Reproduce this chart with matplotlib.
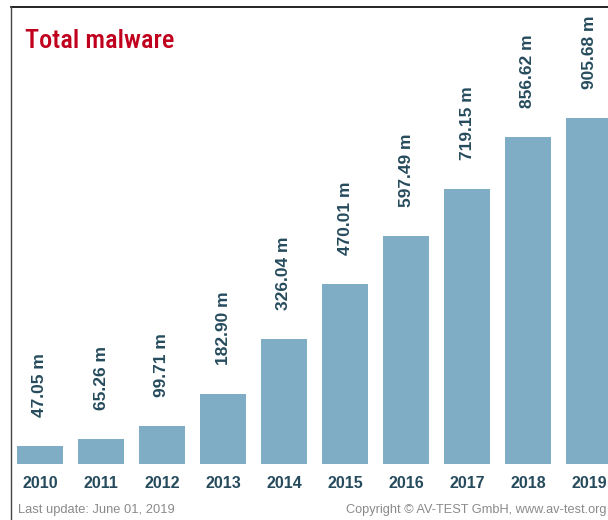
import matplotlib
matplotlib.use('Agg')
import matplotlib.pyplot as plt
from matplotlib.lines import Line2D
from matplotlib import font_manager

# Yearly totals (millions of samples)
years = ['2010', '2011', '2012', '2013', '2014', '2015', '2016', '2017', '2018', '2019']
totals = [47.05, 65.26, 99.71, 182.90, 326.04, 470.01, 597.49, 719.15, 856.62, 905.68]
value_labels = ['47.05 m', '65.26 m', '99.71 m', '182.90 m', '326.04 m',
                '470.01 m', '597.49 m', '719.15 m', '856.62 m', '905.68 m']

W, H = 608, 520
bar_color = '#7fadc6'
label_color = '#264b5d'

# pick a narrow face for the heading if one is installed
installed = {(f.name, f.stretch) for f in font_manager.fontManager.ttflist}
names = {n for n, _ in installed}
title_font = dict(family=['DejaVu Sans'], fontstretch='normal', fontsize=16)
for cand in ['Liberation Sans Narrow', 'Roboto Condensed', 'Open Sans Condensed',
             'DejaVu Sans Condensed']:
    if cand in names:
        title_font = dict(family=[cand, 'DejaVu Sans'], fontstretch='normal', fontsize=19)
        break
else:
    if any(n == 'DejaVu Sans' and s in ('condensed', 'semi-condensed')
           for n, s in installed):
        title_font = dict(family=['DejaVu Sans'], fontstretch='condensed', fontsize=17)

fig = plt.figure(figsize=(W / 100, H / 100), dpi=100, facecolor='white')

# axes spans from the left frame line to the right edge, top frame line to the bottom
left_px, top_px = 11, 7
ax = fig.add_axes([left_px / W, 0, 1 - left_px / W, 1 - top_px / H])
px_per_unit = 346 / 905.68
baseline_px = 464
ax.set_ylim(-(H - baseline_px) / px_per_unit, (baseline_px - top_px) / px_per_unit)
ax.set_xlim((left_px - 40) / 61, (W - 40) / 61)
ax.axis('off')

x = list(range(len(years)))
ax.bar(x, totals, width=46 / 61, color=bar_color, edgecolor='none')

gap = 29 / px_per_unit
for xi, v, lab in zip(x, totals, value_labels):
    ax.text(xi, v + gap, lab, rotation=90, ha='center', va='bottom',
            fontsize=12.5, fontweight='bold', color=label_color,
            family=['Liberation Sans', 'DejaVu Sans'])

year_y = -(483 - baseline_px) / px_per_unit
for xi, yr in zip(x, years):
    ax.text(xi, year_y, yr, ha='center', va='center', fontsize=11.5,
            fontweight='bold', color=label_color,
            family=['Liberation Sans', 'DejaVu Sans'])

# frame lines
fig.add_artist(Line2D([left_px / W, 1], [1 - top_px / H] * 2, color='black', lw=1.2))
fig.add_artist(Line2D([left_px / W] * 2, [0, 1 - top_px / H], color='#444444', lw=1.0))

fig.text(25 / W, 1 - 48 / H, 'Total malware', ha='left', va='baseline',
         color='#c0001c', fontweight='medium', **title_font)

fig.text(18 / W, 1 - 510 / H, 'Last update: June 01, 2019', ha='left', va='center',
         fontsize=9.3, color='#8a8a8a', family=['Liberation Sans', 'DejaVu Sans'])
fig.text((W - 1) / W, 1 - 510 / H, 'Copyright \u00a9 AV-TEST GmbH, www.av-test.org',
         ha='right', va='center', fontsize=9.2, color='#8a8a8a',
         family=['Liberation Sans', 'DejaVu Sans'])

fig.savefig('out.png', dpi=100, facecolor='white')
